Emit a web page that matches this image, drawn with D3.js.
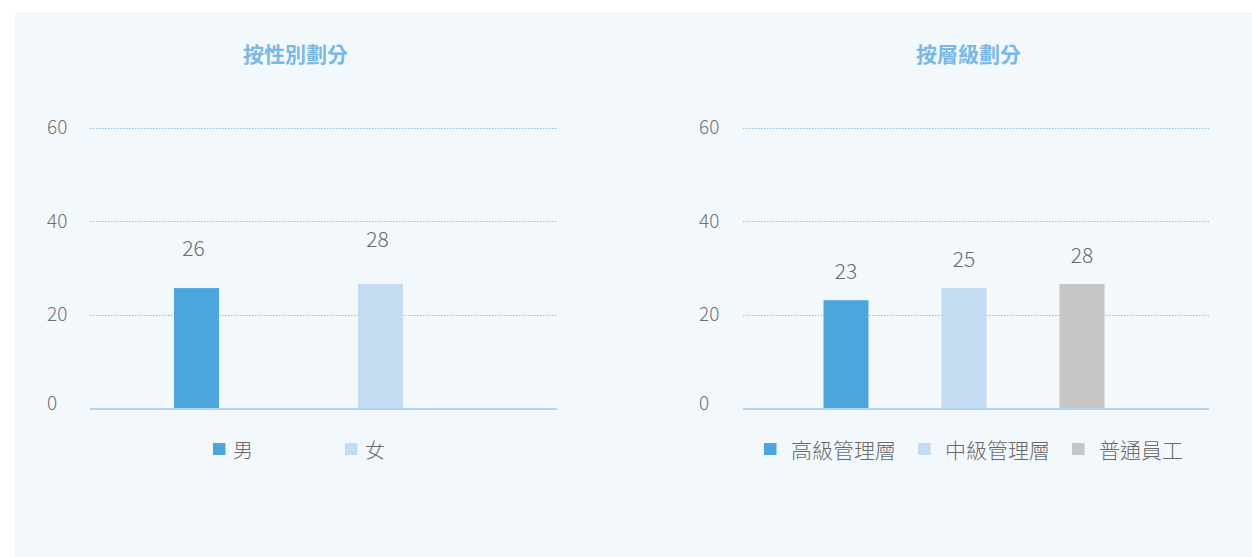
<!DOCTYPE html>
<html>
<head>
<meta charset="utf-8">
<script src="https://cdn.jsdelivr.net/npm/d3@7"></script>
<style>
  html, body { margin: 0; padding: 0; background: #ffffff; }
  svg { display: block; }
  text { font-family: "Noto Sans CJK TC", "Noto Sans CJK SC", "Noto Sans", sans-serif; }
</style>
</head>
<body>
<svg id="chart" width="1252" height="557"></svg>
<script>
// ---- data ----
const genderTitle = "按性別劃分";
const genderCategories = ["男", "女"];
const genderValues = [25.7, 26.6];
const genderLabels = ["26", "28"];

const levelTitle = "按層級劃分";
const levelCategories = ["高級管理層", "中級管理層", "普通員工"];
const levelValues = [23.1, 25.7, 26.6];
const levelLabels = ["23", "25", "28"];

const yTicks = [0, 20, 40, 60];
const genderColors = ["#4ca6dc", "#c4dcf1"];
const levelColors = ["#4ca6dc", "#c4dcf1", "#c5c6c5"];

// ---- drawing ----
const svg = d3.select("#chart");
svg.append("rect").attr("x", 15).attr("y", 12).attr("width", 1237).attr("height", 545).attr("fill", "#f3f8fd");

const y = d3.scaleLinear().domain([0, 60]).range([408, 128]);

function drawChart(cfg) {
  const g = svg.append("g");
  // title
  g.append("text").attr("x", cfg.titleX).attr("y", 53)
    .attr("text-anchor", "middle").attr("dominant-baseline", "central")
    .attr("font-size", 21).attr("font-weight", 700).attr("fill", "#7ab8e5")
    .text(cfg.title);

  // y axis (labels + grid)
  const axis = d3.axisLeft(y).tickValues(yTicks).tickSize(0).tickPadding(0);
  const ag = g.append("g").attr("transform", `translate(${cfg.labelX},0)`).call(axis);
  ag.select(".domain").remove();
  ag.attr("font-size", null).attr("font-family", null);
  ag.selectAll("text").attr("text-anchor", "start").attr("x", 0)
    .attr("dy", d => d === 0 ? "0.1em" : "0.3em")
    .attr("font-size", 19).attr("font-weight", 300).attr("fill", "#707070");

  g.selectAll("line.grid").data(yTicks.filter(t => t > 0)).join("line")
    .attr("class", "grid")
    .attr("x1", cfg.x0).attr("x2", cfg.x1)
    .attr("y1", d => Math.round(y(d)) + 0.5).attr("y2", d => Math.round(y(d)) + 0.5)
    .attr("stroke", "#8cc3e8").attr("stroke-width", 1).attr("stroke-dasharray", "1.5,1.5");

  // x scale (bar centers)
  const x = d3.scalePoint().domain(cfg.categories).range([cfg.c0, cfg.c1]);
  const bw = 45;

  g.selectAll("rect.bar").data(cfg.values).join("rect")
    .attr("class", "bar")
    .attr("x", (d, i) => x(cfg.categories[i]) - bw / 2)
    .attr("width", bw)
    .attr("y", d => y(d))
    .attr("height", d => y(0) + 1 - y(d))
    .attr("fill", (d, i) => cfg.colors[i]);

  // baseline
  g.append("line").attr("x1", cfg.x0).attr("x2", cfg.x1)
    .attr("y1", y(0) + 1).attr("y2", y(0) + 1)
    .attr("stroke", "#b3d5ef").attr("stroke-width", 2);

  // value labels
  g.selectAll("text.val").data(cfg.labels).join("text")
    .attr("class", "val")
    .attr("x", (d, i) => x(cfg.categories[i]) - cfg.labelShift)
    .attr("y", (d, i) => cfg.labelFromText ? y(+d) - cfg.labelOffset : y(cfg.values[i]) - cfg.labelOffset)
    .attr("text-anchor", "middle").attr("dominant-baseline", "central")
    .attr("font-size", 21).attr("font-weight", 300).attr("fill", "#6a6a6a")
    .text(d => d);

  // legend (flow layout)
  let lx = cfg.legendX;
  cfg.categories.forEach((c, i) => {
    g.append("rect").attr("x", lx).attr("y", 443).attr("width", 12.5).attr("height", 12)
      .attr("fill", cfg.colors[i]);
    const t = g.append("text").attr("x", lx + cfg.legendTextOffset).attr("y", 449)
      .attr("dominant-baseline", "central")
      .attr("font-size", cfg.legendFont).attr("font-weight", 300).attr("fill", "#6a6a6a")
      .text(c);
    lx = lx + cfg.legendTextOffset + t.node().getComputedTextLength() + cfg.legendGap;
  });
}

drawChart({
  title: genderTitle, titleX: 295.5, labelX: 47, x0: 90, x1: 557,
  categories: genderCategories, values: genderValues, labels: genderLabels, colors: genderColors,
  c0: 196.5, c1: 380.5, labelFromText: true, labelOffset: 39.5, labelShift: 3,
  legendX: 213, legendTextOffset: 20, legendGap: 92, legendFont: 20
});

drawChart({
  title: levelTitle, titleX: 968.5, labelX: 699, x0: 743, x1: 1209,
  categories: levelCategories, values: levelValues, labels: levelLabels, colors: levelColors,
  c0: 846, c1: 1082, labelFromText: false, labelOffset: 30, labelShift: 0,
  legendX: 764, legendTextOffset: 27, legendGap: 22, legendFont: 21
});
</script>
</body>
</html>
